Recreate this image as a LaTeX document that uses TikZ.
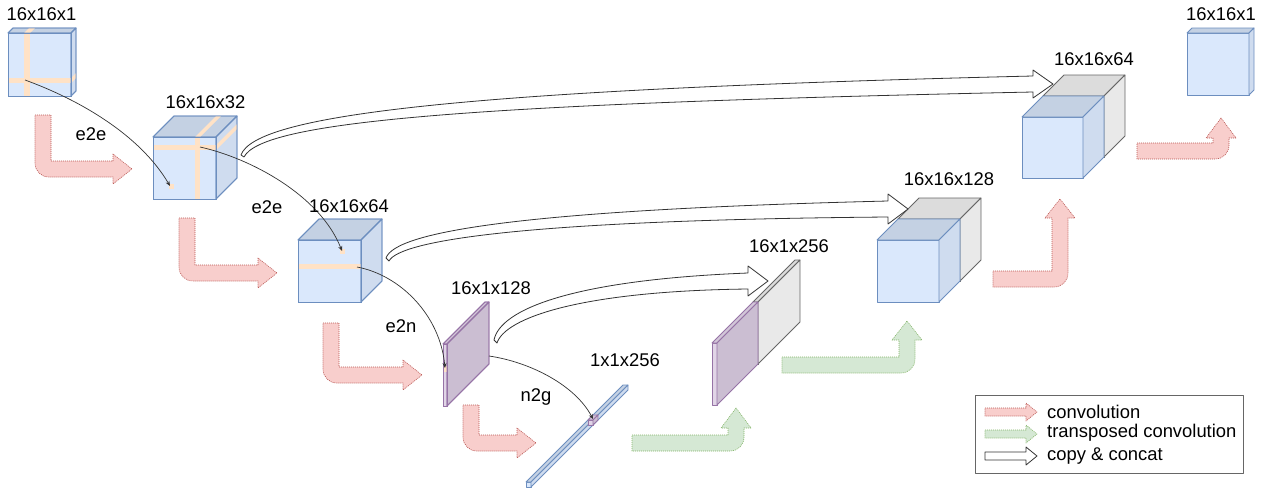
\documentclass[tikz,border=0pt]{standalone}
\usepackage{fontspec}
\setmainfont{Liberation Sans}
\usetikzlibrary{arrows.meta}
\definecolor{cBfront}{HTML}{DAE8FC}
\definecolor{cBtop}{RGB}{196,209,227}
\definecolor{cBside}{RGB}{207,220,239}
\definecolor{cBline}{HTML}{6C8EBF}
\definecolor{cGfront}{HTML}{F5F5F5}
\definecolor{cGtop}{RGB}{220,220,220}
\definecolor{cGside}{RGB}{233,233,233}
\definecolor{cGline}{HTML}{666666}
\definecolor{cPfront}{HTML}{E1D5E7}
\definecolor{cPtop}{RGB}{210,198,216}
\definecolor{cPside}{RGB}{203,190,210}
\definecolor{cPline}{HTML}{9673A6}
\definecolor{cStripe}{HTML}{FFE2C6}
\definecolor{cRedfill}{HTML}{F8CECC}
\definecolor{cRedline}{HTML}{B85450}
\definecolor{cGrnfill}{HTML}{D5E8D4}
\definecolor{cGrnline}{HTML}{82B366}
\definecolor{cConn}{HTML}{333333}
\newcommand{\cuboid}[6]{%
  \draw[#6front] (#1,#2) rectangle ++(#3,#4);
  \draw[#6top] (#1,#2) -- ++(#5,-#5) -- ++(#3,0) -- ++(-#5,#5) -- cycle;
  \draw[#6side] (#1+#3,#2) -- ++(#5,-#5) -- ++(0,#4) -- ++(-#5,#5) -- cycle;
}
\newcommand{\downright}[4]{% x0 ytop ybottom xtip
  \draw[conv] (#1,#2) -- ++(16,0) -- (#1+16,#3-16) -- (#4-19,#3-16) -- (#4-19,#3-23) -- (#4,#3-8) -- (#4-19,#3+7) -- (#4-19,#3) -- (#1+14,#3) .. controls (#1+6,#3) and (#1,#3-6) .. (#1,#3-14) -- cycle;
}
\begin{document}
\begin{tikzpicture}[x=1pt,y=-1pt,line join=round,
  bfront/.style={fill=cBfront,draw=cBline,line width=0.8pt},
  btop/.style={fill=cBtop,draw=cBline,line width=0.8pt},
  bside/.style={fill=cBside,draw=cBline,line width=0.8pt},
  gfront/.style={fill=cGfront,draw=cGline,line width=0.8pt},
  gtop/.style={fill=cGtop,draw=cGline,line width=0.8pt},
  gside/.style={fill=cGside,draw=cGline,line width=0.8pt},
  pfront/.style={fill=cPfront,draw=cPline,line width=0.8pt},
  ptop/.style={fill=cPtop,draw=cPline,line width=0.8pt},
  pside/.style={fill=cPside,draw=cPline,line width=0.8pt},
  ofront/.style={draw=cBline,line width=0.8pt},
  otop/.style={draw=cBline,line width=0.8pt},
  oside/.style={draw=cBline,line width=0.8pt},
  qfront/.style={draw=cPline,line width=0.8pt},
  qtop/.style={draw=cPline,line width=0.8pt},
  qside/.style={draw=cPline,line width=0.8pt},
  stripe/.style={fill=cStripe},
  conv/.style={fill=cRedfill,draw=cRedline,line width=0.6pt,dash pattern=on 1pt off 1pt},
  tconv/.style={fill=cGrnfill,draw=cGrnline,line width=0.6pt,dash pattern=on 1pt off 1pt},
  copyarrow/.style={fill=white,draw=cConn,line width=0.8pt},
  conn/.style={draw=cConn,line width=0.7pt,-{Stealth[length=5pt,width=4pt]}},
  lbl/.style={inner sep=0pt,font=\fontsize{18.4}{20}\selectfont},
  leg/.style={inner sep=0pt,anchor=west,font=\fontsize{18.4}{20}\selectfont}]
\useasboundingbox (0,0) rectangle (1265,490);

% ---- input cube 16x16x1
\cuboid{8}{33}{63}{63}{5}{b}
\fill[stripe] (24,33) rectangle (30,96);
\fill[stripe] (24,33) -- ++(5,-5) -- ++(6,0) -- ++(-5,5) -- cycle;
\fill[stripe] (8,78) rectangle (71,83);
\fill[stripe] (71,78) -- ++(5,-5) -- ++(0,5) -- ++(-5,5) -- cycle;
\cuboid{8}{33}{63}{63}{5}{o}

% ---- cube 16x16x32
\cuboid{153}{137}{63}{62}{21}{b}
\fill[stripe] (195,137) rectangle (200,199);
\fill[stripe] (195,137) -- ++(21,-21) -- ++(5,0) -- ++(-21,21) -- cycle;
\fill[stripe] (153,145) rectangle (216,150);
\fill[stripe] (216,145) -- ++(21,-21) -- ++(0,5) -- ++(-21,21) -- cycle;
\fill[stripe] (169,184) rectangle ++(5,5);
\cuboid{153}{137}{63}{62}{21}{o}

% ---- cube 16x16x64
\cuboid{298}{240}{63}{62}{21}{b}
\fill[stripe] (298,264) rectangle (361,269);
\fill[stripe] (340,249) rectangle ++(5,5);
\cuboid{298}{240}{63}{62}{21}{o}

% ---- slab 16x1x128
\cuboid{443}{344}{4}{62}{42}{p}
\fill[stripe] (443,366) rectangle (447,372);
\cuboid{443}{344}{4}{62}{42}{q}

% ---- bar 1x1x256
\cuboid{526}{482}{5}{5}{97}{b}
\cuboid{588}{420}{5}{5}{5}{p}

% ---- slab 16x1x256
\cuboid{753}{302}{5}{62}{42}{g}
\cuboid{712}{343}{5}{62}{41}{p}

% ---- cube 16x16x128
\cuboid{898}{219}{62}{62}{21}{g}
\cuboid{877}{240}{62}{62}{21}{b}

% ---- cube 16x16x64 (decoder)
\cuboid{1043}{96}{61}{61}{21}{g}
\cuboid{1022}{117}{61}{61}{21}{b}

% ---- output cube 16x16x1
\cuboid{1187}{33}{62}{62}{5}{b}

% ---- convolution arrows
\downright{35}{115}{177}{132}
\downright{179}{218}{281}{277}
\downright{323}{323}{383}{422}
\downright{463}{405}{451}{536}

% right-then-up arrows
\draw[tconv] (632,435) -- (728,435) -- (728,428) -- (721,428) -- (736,408) -- (751,428) -- (744,428) -- (744,437) .. controls (744,445) and (738,451) .. (730,451) -- (632,451) -- cycle;
\draw[tconv] (782,357) -- (899,357) -- (899,340) -- (892,340) -- (907,321) -- (922,340) -- (915,340) -- (915,359) .. controls (915,367) and (909,373) .. (901,373) -- (782,373) -- cycle;
\draw[conv] (993,271) -- (1052,271) -- (1052,218) -- (1045,218) -- (1060,199) -- (1075,218) -- (1068,218) -- (1068,273) .. controls (1068,281) and (1062,287) .. (1054,287) -- (993,287) -- cycle;
\draw[conv] (1137,143) -- (1213,143) -- (1213,138) -- (1206,138) -- (1221,118) -- (1236,138) -- (1229,138) -- (1229,145) .. controls (1229,153) and (1223,159) .. (1215,159) -- (1137,159) -- cycle;

% ---- copy & concat arrows
\draw[copyarrow] (241,155) .. controls (255,116) and (450,90) .. (1033,76) -- (1033,70) -- (1053,84) -- (1033,98) -- (1033,92) .. controls (460,104) and (262,122) .. (244,157) -- cycle;
\draw[copyarrow] (386,258) .. controls (395,232) and (520,210) .. (888,201) -- (888,194) -- (908,209) -- (888,224) -- (888,217) .. controls (530,220) and (400,240) .. (389,261) -- cycle;
\draw[copyarrow] (494,340) .. controls (500,310) and (570,280) .. (748,273) -- (748,266) -- (768,281) -- (748,296) -- (748,289) .. controls (580,291) and (505,318) .. (497,343) -- cycle;

% ---- thin connectors
\coordinate (s1) at (25,80);   \coordinate (t1) at (170,186);
\coordinate (s2) at (200,147); \coordinate (t2) at (342,251);
\coordinate (s3) at (357,267); \coordinate (t3) at (445,368);
\coordinate (s4) at (489,356); \coordinate (t4) at (593,419);
\draw[conn] (s1) .. controls (80,100) and (140,135) .. (t1);
\draw[conn] (s2) .. controls (250,158) and (320,195) .. (t2);
\draw[conn] (s3) .. controls (400,275) and (440,315) .. (t3);
\draw[conn] (s4) .. controls (530,362) and (575,385) .. (t4);

% ---- labels
\node[lbl] (l1) at (41.5,14) {16x16x1};
\node[lbl] (l2) at (205.5,102) {16x16x32};
\node[lbl] (l3) at (349,206) {16x16x64};
\node[lbl] (l4) at (491,288) {16x1x128};
\node[lbl] (l5) at (625,360) {1x1x256};
\node[lbl] (l6) at (789,246) {16x1x256};
\node[lbl] (l7) at (949,179) {16x16x128};
\node[lbl] (l8) at (1094,59) {16x16x64};
\node[lbl] (l9) at (1221,14) {16x16x1};
\node[lbl] (o1) at (91,134) {e2e};
\node[lbl] (o2) at (267,207) {e2e};
\node[lbl] (o3) at (401,326) {e2n};
\node[lbl] (o4) at (536,397) {n2g};

% ---- legend
\draw[cGline,line width=0.8pt] (975,395) rectangle (1243,473);
\draw[conv] (985,408) -- (1026,408) -- (1026,403) -- (1037,412) -- (1026,421) -- (1026,416) -- (985,416) -- cycle;
\draw[tconv] (985,430) -- (1026,430) -- (1026,425) -- (1037,434) -- (1026,443) -- (1026,438) -- (985,438) -- cycle;
\draw[copyarrow] (985,452) -- (1026,452) -- (1026,447) -- (1037,456) -- (1026,465) -- (1026,460) -- (985,460) -- cycle;
\node[leg] (g1) at (1047,412) {convolution};
\node[leg] (g2) at (1047,433) {transposed convolution};
\node[leg] (g3) at (1047,456) {copy \& concat};
\end{tikzpicture}
\end{document}
